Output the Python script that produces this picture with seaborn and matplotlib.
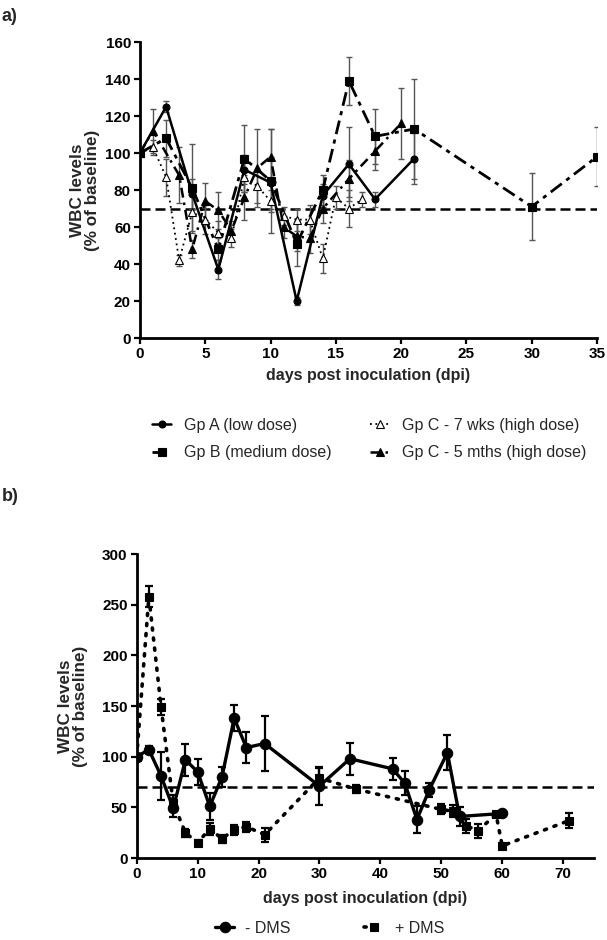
import matplotlib
matplotlib.use("Agg")
import matplotlib.pyplot as plt
import seaborn as sns

# ---- panel a data ----
gpa_days = [0, 2, 4, 6, 8, 10, 12, 14, 16, 18, 21]
gpa_vals = [100, 125, 78, 37, 91, 84, 20, 77, 94, 75, 97]
gpa_err = [0, 3, 8, 5, 8, 14, 2, 6, 20, 4, 14]

gpb_days = [0, 2, 4, 6, 8, 10, 12, 14, 16, 18, 21, 30, 35]
gpb_vals = [100, 108, 81, 48, 97, 85, 51, 80, 139, 109, 113, 71, 98]
gpb_err = [0, 10, 24, 6, 18, 28, 12, 8, 13, 15, 27, 18, 16]

gpc7_days = [0, 1, 2, 3, 4, 5, 6, 7, 8, 9, 10, 11, 12, 13, 14, 15, 16, 17]
gpc7_vals = [100, 103, 87, 42, 68, 64, 57, 54, 87, 82, 74, 66, 64, 64, 43, 76, 70, 75]
gpc7_err = [0, 4, 10, 3, 10, 8, 6, 5, 8, 9, 6, 5, 6, 8, 8, 6, 10, 4]

gpc5_days = [0, 1, 3, 4, 5, 6, 7, 8, 9, 10, 11, 12, 13, 14, 16, 18, 20]
gpc5_vals = [100, 112, 88, 48, 74, 69, 58, 76, 92, 98, 60, 55, 54, 70, 86, 101, 116]
gpc5_err = [0, 12, 15, 5, 10, 10, 5, 12, 21, 15, 6, 8, 8, 8, 10, 10, 19]

# ---- panel b data ----
minus_days = [0, 2, 4, 6, 8, 10, 12, 14, 16, 18, 21, 30, 35, 42, 44, 46, 48, 51, 53, 60]
minus_vals = [100, 107, 81, 49, 97, 85, 51, 80, 138, 109, 113, 71, 98, 88, 74, 38, 67, 104, 41, 44]
minus_err = [0, 4, 24, 9, 16, 13, 13, 10, 13, 15, 27, 19, 16, 11, 12, 13, 7, 17, 9, 2]

plus_days = [0, 2, 4, 6, 8, 10, 12, 14, 16, 18, 21, 30, 36, 50, 52, 54, 56, 59, 60, 71]
plus_vals = [100, 258, 149, 54, 25, 15, 29, 19, 28, 31, 23, 79, 68, 48, 46, 32, 27, 43, 12, 37]
plus_err = [0, 10, 8, 8, 4, 3, 6, 4, 5, 5, 7, 10, 4, 5, 6, 7, 7, 2, 2, 7]

threshold = 70

sns.set_style("ticks")
plt.rcParams['font.family'] = ['Liberation Sans', 'DejaVu Sans']

fig = plt.figure(figsize=(6.07, 9.4), dpi=100)
ax1 = fig.add_axes([0.2306, 0.6404, 0.7529, 0.3149])
ax2 = fig.add_axes([0.2252, 0.0872, 0.7527, 0.3234])


def series(ax, x, y, err, label, ls, marker, ms, lw, mfc='black', ecolor='black', elw=1.0, cap=2):
    ax.errorbar(x, y, yerr=err, fmt='none', ecolor=ecolor, elinewidth=elw,
                capsize=cap, capthick=elw, zorder=2)
    sns.lineplot(x=x, y=y, ax=ax, color='black', linestyle=ls, linewidth=lw,
                 marker=marker, markersize=ms, markerfacecolor=mfc,
                 markeredgecolor='black', markeredgewidth=0.8,
                 label=label, zorder=3)


# panel a
series(ax1, gpa_days, gpa_vals, gpa_err, 'Gp A (low dose)', '-', 'o', 5, 1.8, ecolor='#555555')
series(ax1, gpb_days, gpb_vals, gpb_err, 'Gp B (medium dose)', (0, (5, 2, 1.5, 2)), 's', 5.5, 2.0, ecolor='#555555')
series(ax1, gpc7_days, gpc7_vals, gpc7_err, 'Gp C - 7 wks (high dose)', (0, (1, 2)), '^', 6, 1.3,
       mfc='white', ecolor='#555555')
series(ax1, gpc5_days, gpc5_vals, gpc5_err, 'Gp C - 5 mths (high dose)', (0, (4, 2, 1, 2)), '^', 6, 1.8,
       ecolor='#555555')
ax1.axhline(threshold, color='black', linestyle=(0, (4, 2)), linewidth=1.8, zorder=1)

ax1.set_xlim(0, 35)
ax1.set_ylim(0, 160)
ax1.set_xticks(range(0, 36, 5))
ax1.set_yticks(range(0, 161, 20))
ax1.set_xlabel('days post inoculation (dpi)', fontsize=11.5, fontweight='bold', labelpad=5)
ax1.set_ylabel('WBC levels\n(% of baseline)', fontsize=12.3, fontweight='bold', linespacing=1.0)
ax1.yaxis.set_label_coords(-0.088, 0.5)
handles, labels = ax1.get_legend_handles_labels()
ax1.legend(handles[:4], labels[:4], ncol=2, loc='upper left', bbox_to_anchor=(-0.005, -0.22),
           frameon=False, fontsize=11.5, handlelength=1.2, columnspacing=2.4,
           handletextpad=0.8, labelspacing=0.8)

# panel b
series(ax2, minus_days, minus_vals, minus_err, '- DMS', '-', 'o', 7.5, 2.4, elw=1.6, cap=3)
series(ax2, plus_days, plus_vals, plus_err, '+ DMS', (0, (0.6, 2.2)), 's', 5.5, 2.6, elw=1.6, cap=3)
for line in ax2.get_lines():
    line.set_dash_capstyle('round')
ax2.axhline(threshold, color='black', linestyle=(0, (4, 2)), linewidth=1.8, zorder=1)

ax2.set_xlim(0, 75)
ax2.set_ylim(0, 300)
ax2.set_xticks(range(0, 71, 10))
ax2.set_yticks(range(0, 301, 50))
ax2.set_xlabel('days post inoculation (dpi)', fontsize=11.5, fontweight='bold', labelpad=7)
ax2.set_ylabel('WBC levels\n(% of baseline)', fontsize=12.3, fontweight='bold', linespacing=1.0)
ax2.yaxis.set_label_coords(-0.107, 0.5)
handles, labels = ax2.get_legend_handles_labels()
ax2.legend(handles[:2], labels[:2], ncol=2, loc='upper left', bbox_to_anchor=(0.147, -0.17),
           frameon=False, fontsize=11.5, handlelength=1.2, columnspacing=4.6,
           handletextpad=0.7, borderpad=0.2)

for ax in (ax1, ax2):
    sns.despine(ax=ax)
    for side in ('left', 'bottom'):
        ax.spines[side].set_linewidth(2.0)
        ax.spines[side].set_color('black')
    ax.tick_params(width=1.6, length=4, labelsize=11, colors='black', pad=2.5)
    for t in ax.get_xticklabels() + ax.get_yticklabels():
        t.set_fontweight('bold')

fig.text(0.003, 0.992, 'a)', fontsize=13, fontweight='bold', va='top')
fig.text(0.003, 0.481, 'b)', fontsize=13, fontweight='bold', va='top')

fig.savefig('out.png', dpi=100, facecolor='white')
